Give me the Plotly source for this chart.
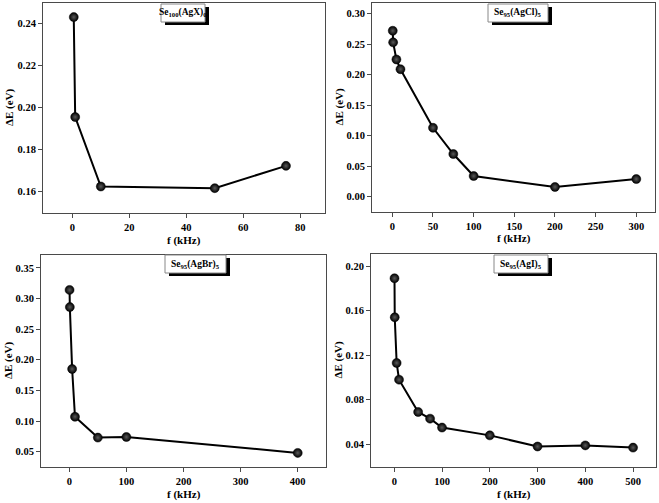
import plotly.graph_objects as go

# Panel data
f_agx = [0.5, 1, 10, 50, 75]
de_agx = [0.243, 0.1955, 0.1625, 0.1617, 0.1723]

f_agcl = [0.5, 1, 5, 10, 50, 75, 100, 200, 300]
de_agcl = [0.272, 0.253, 0.225, 0.209, 0.113, 0.070, 0.034, 0.016, 0.029]

f_agbr = [0.5, 1, 5, 10, 50, 100, 400]
de_agbr = [0.314, 0.286, 0.185, 0.107, 0.073, 0.074, 0.048]

f_agi = [0.5, 1, 5, 10, 50, 75, 100, 200, 300, 400, 500]
de_agi = [0.189, 0.154, 0.113, 0.098, 0.069, 0.063, 0.055, 0.048, 0.038, 0.039, 0.037]

labels = ["Se<sub>100</sub>(AgX)<sub>0</sub>", "Se<sub>95</sub>(AgCl)<sub>5</sub>",
          "Se<sub>95</sub>(AgBr)<sub>5</sub>", "Se<sub>95</sub>(AgI)<sub>5</sub>"]

W, H = 659, 503
FONT = "Liberation Serif, Times New Roman, serif"

panels = [
    dict(x=f_agx, y=de_agx, px=(43, 325), py=(3, 213), xr=[-10.3, 88.7], yr=[0.1499, 0.2497],
         xd=20, yd=0.02, y0=0.16, box=(161, 205, 4, 22)),
    dict(x=f_agcl, y=de_agcl, px=(372, 655), py=(3, 212), xr=[-25, 323], yr=[-0.025, 0.3175],
         xd=50, yd=0.05, y0=0.0, box=(488, 548, 4, 22)),
    dict(x=f_agbr, y=de_agbr, px=(41, 326), py=(255, 467), xr=[-49.5, 449.5], yr=[0.025, 0.371],
         xd=100, yd=0.05, y0=0.05, box=(165, 226, 255, 273)),
    dict(x=f_agi, y=de_agi, px=(371, 656), py=(254, 467), xr=[-48.7, 548], yr=[0.0196, 0.2108],
         xd=100, yd=0.04, y0=0.04, box=(494, 548, 255, 273)),
]

def px2x(v):
    return v / W

def px2y(v):
    return 1 - v / H

fig = go.Figure()
annotations = []
shapes = []
for i, p in enumerate(panels):
    n = "" if i == 0 else str(i + 1)
    xa, ya = "x" + n, "y" + n
    fig.add_trace(go.Scatter(
        x=p["x"], y=p["y"], xaxis=xa, yaxis=ya, mode="lines+markers",
        line=dict(color="black", width=2),
        marker=dict(size=9, color="#000000",
                    gradient=dict(type="radial", color="#5a5a5a"),
                    line=dict(color="black", width=0.5)),
        showlegend=False, hoverinfo="skip"))
    axis_common = dict(showline=True, mirror=True, linecolor="#4a4a4a", linewidth=1,
                       ticks="outside", ticklen=4, tickcolor="#4a4a4a", showgrid=False,
                       zeroline=False,
                       tickfont=dict(family=FONT, size=10.5, color="black", weight="bold"))
    fig.layout["xaxis" + n] = dict(
        domain=[px2x(p["px"][0]), px2x(p["px"][1])], range=p["xr"], anchor=ya,
        tick0=0, dtick=p["xd"], **axis_common)
    fig.layout["yaxis" + n] = dict(
        domain=[px2y(p["py"][1]), px2y(p["py"][0])], range=p["yr"], anchor=xa,
        tick0=p["y0"], dtick=p["yd"], tickformat=".2f", **axis_common)
    # label box with shadow
    x0, x1, y0, y1 = p["box"]
    shapes.append(dict(type="rect", xref="paper", yref="paper",
                       x0=px2x(x0 + 4), x1=px2x(x1 + 4), y0=px2y(y1 + 3), y1=px2y(y0 + 3),
                       fillcolor="black", line=dict(width=0), layer="above"))
    shapes.append(dict(type="rect", xref="paper", yref="paper",
                       x0=px2x(x0), x1=px2x(x1), y0=px2y(y1), y1=px2y(y0),
                       fillcolor="white", line=dict(color="#888888", width=1), layer="above"))
    annotations.append(dict(xref="paper", yref="paper", x=px2x((x0 + x1) / 2), y=px2y((y0 + y1) / 2),
                            showarrow=False, text="<b>" + labels[i] + "</b>",
                            xanchor="center", yanchor="middle",
                            font=dict(family=FONT, size=9.5, color="black")))
    # axis titles
    cx = (p["px"][0] + p["px"][1]) / 2
    cy = (p["py"][0] + p["py"][1]) / 2
    annotations.append(dict(xref="paper", yref="paper", x=px2x(cx), y=px2y(p["py"][1] + 27),
                            text="<b>f (kHz)</b>", showarrow=False, xanchor="center", yanchor="middle",
                            font=dict(family=FONT, size=11, color="black")))
    annotations.append(dict(xref="paper", yref="paper", x=px2x(p["px"][0] - 33), y=px2y(cy),
                            text="<b>ΔE (eV)</b>", showarrow=False, textangle=-90,
                            xanchor="center", yanchor="middle",
                            font=dict(family=FONT, size=11, color="black")))

fig.update_layout(width=W, height=H, margin=dict(l=0, r=0, t=0, b=0),
                  paper_bgcolor="white", plot_bgcolor="white",
                  annotations=annotations, shapes=shapes)
fig.write_html("out.html", config={"displayModeBar": False},
               post_script="document.body.style.margin='0px';document.body.style.padding='0px';")
